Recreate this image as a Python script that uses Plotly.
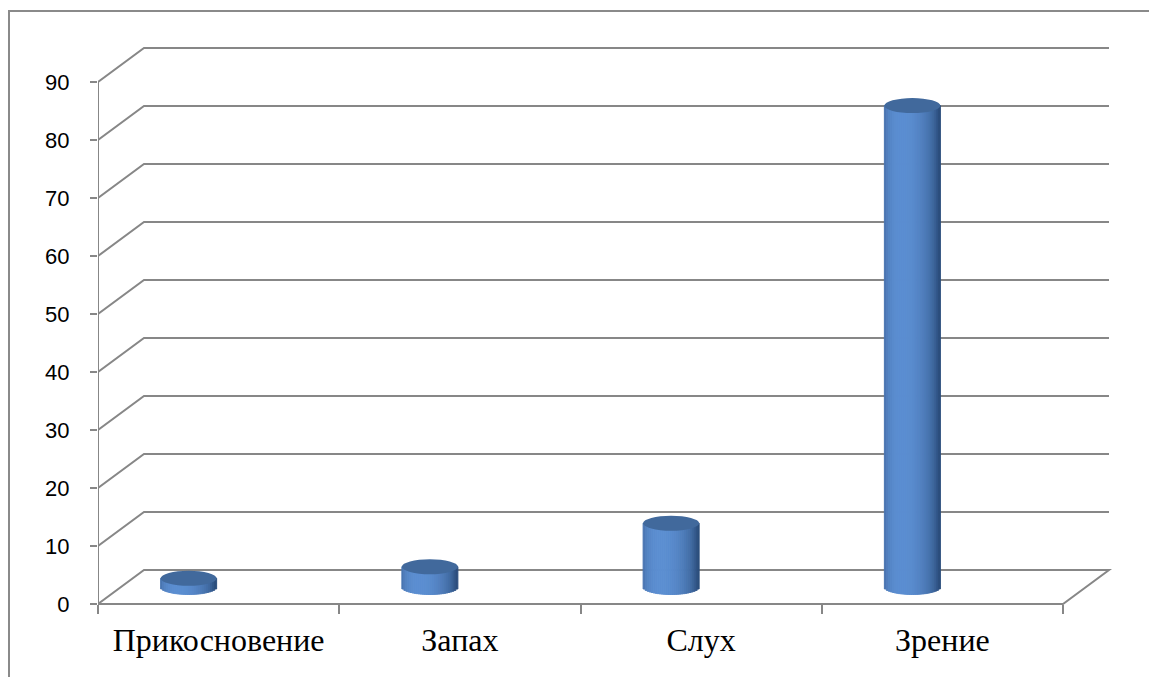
import numpy as np
import plotly.graph_objects as go

# ---------------- data ----------------
categories = ["Прикосновение", "Запах", "Слух", "Зрение"]
values = [1.5, 3.5, 11, 83]
y_tick_values = [0, 10, 20, 30, 40, 50, 60, 70, 80, 90]
y_tick_labels = ["0", "10", "20", "30", "40", "50", "60", "70", "80", "90"]

# ---------------- geometry / style ----------------
W, H = 1149, 677
ML = 98                 # left margin (front axis position)
PX_PER_CAT = 241.25     # pixels per category slot
PX_PER_UNIT = 5.8       # pixels per value unit
Y0_PX = 604             # pixel row of value 0 on the front plane
DEPTH_PX = (46, 34)     # oblique depth offset (right, up)
CYL_SHIFT_PX = -30      # cylinder centre shift from slot centre
CYL_R_PX = 28           # cylinder radius (px)
CYL_B_PX = 7.5          # ellipse half-height (px)
N_STRIPS = 28

GRID = "#878787"
TXT = "#000000"

n = len(categories)
dxu = DEPTH_PX[0] / PX_PER_CAT
dyu = DEPTH_PX[1] / PX_PER_UNIT
x_lo = -0.5
x_hi = -0.5 + (W - ML) / PX_PER_CAT
y_top = Y0_PX / PX_PER_UNIT
y_bot = (Y0_PX - H) / PX_PER_UNIT
x_end = n - 0.5

shapes = []
# back-wall gridlines (with left oblique segment)
for v in y_tick_values[1:]:
    shapes.append(dict(type="path", xref="x", yref="y", layer="below",
                       path=f"M {x_lo},{v} L {x_lo + dxu},{v + dyu} L {x_end + dxu},{v + dyu}",
                       line=dict(color=GRID, width=2)))
# floor outline
v0 = y_tick_values[0]
shapes.append(dict(type="path", xref="x", yref="y", layer="below",
                   path=(f"M {x_lo},{v0} L {x_lo + dxu},{v0 + dyu} L {x_end + dxu},{v0 + dyu} "
                         f"L {x_end},{v0} Z"),
                   line=dict(color=GRID, width=2), fillcolor="rgba(0,0,0,0)"))
# front vertical axis line
shapes.append(dict(type="line", xref="x", yref="y", layer="below",
                   x0=x_lo, x1=x_lo, y0=y_tick_values[0], y1=y_tick_values[-1],
                   line=dict(color=GRID, width=2)))
# outer chart border (left/top visible, right/bottom beyond the page)
pw = W - ML
shapes.append(dict(type="rect", xref="paper", yref="paper",
                   x0=(9 - ML) / pw, x1=(W + 10 - ML) / pw,
                   y0=-0.05, y1=(H - 11) / H,
                   line=dict(color="#8a8a8a", width=2), fillcolor="rgba(0,0,0,0)", layer="below"))

# cylinders: body built from thin vertical strips with shading
dark = np.array([44, 78, 125])
light = np.array([92, 143, 210])
cx_shift = CYL_SHIFT_PX / PX_PER_CAT
r = CYL_R_PX / PX_PER_CAT
b = CYL_B_PX / PX_PER_UNIT
base_c = dyu / 2.0

bx, by, bbase, bw, bcol = [], [], [], [], []
edges = np.linspace(-1, 1, N_STRIPS + 1)
tc = (edges[:-1] + edges[1:]) / 2
a = 0.35
for i, v in enumerate(values):
    cx = i + cx_shift
    top = base_c + v
    for t in tc:
        s = np.sqrt(max(0.0, 1 - t * t)) * np.cos(a) - t * np.sin(a)
        s = float(np.clip(s, 0, 1)) ** 0.9
        c = dark + (light - dark) * s
        lo = base_c - b * np.sqrt(max(0.0, 1 - t * t))
        bx.append(cx + t * r)
        bbase.append(lo)
        by.append(top - lo)
        bw.append(2 * r / N_STRIPS)
        bcol.append(f"rgb({int(c[0])},{int(c[1])},{int(c[2])})")
    # top face ellipse
    shapes.append(dict(type="circle", xref="x", yref="y", layer="above",
                       x0=cx - r, x1=cx + r, y0=top - b, y1=top + b,
                       fillcolor="#41699c", line=dict(width=0)))

fig = go.Figure()
fig.add_trace(go.Bar(x=bx, y=by, base=bbase, width=bw,
                     marker=dict(color=bcol, line=dict(width=1, color=bcol)),
                     hoverinfo="skip", showlegend=False))

fig.update_layout(
    width=W, height=H,
    margin=dict(l=ML, r=0, t=0, b=0),
    paper_bgcolor="white", plot_bgcolor="white",
    shapes=shapes, barmode="overlay", showlegend=False,
    xaxis=dict(range=[x_lo, x_hi], anchor="free", position=(H - Y0_PX) / H,
               tickmode="array", tickvals=list(range(n)), ticktext=categories,
               ticks="", showline=False, showgrid=False, zeroline=False,
               tickfont=dict(family="Liberation Serif", size=32, color=TXT),
               ticklabelstandoff=14,
               minor=dict(tickmode="array", tickvals=[k - 0.5 for k in range(n + 1)],
                          ticks="outside", ticklen=9, tickwidth=2, tickcolor=GRID,
                          showgrid=False)),
    yaxis=dict(range=[y_bot, y_top], tickmode="array", tickvals=y_tick_values,
               ticktext=y_tick_labels, ticks="outside", ticklen=7, tickwidth=2,
               tickcolor=GRID, showline=False, showgrid=False, zeroline=False,
               tickfont=dict(family="Liberation Sans", size=22, color=TXT),
               ticklabelstandoff=16),
)

fig.write_html("out.html")
